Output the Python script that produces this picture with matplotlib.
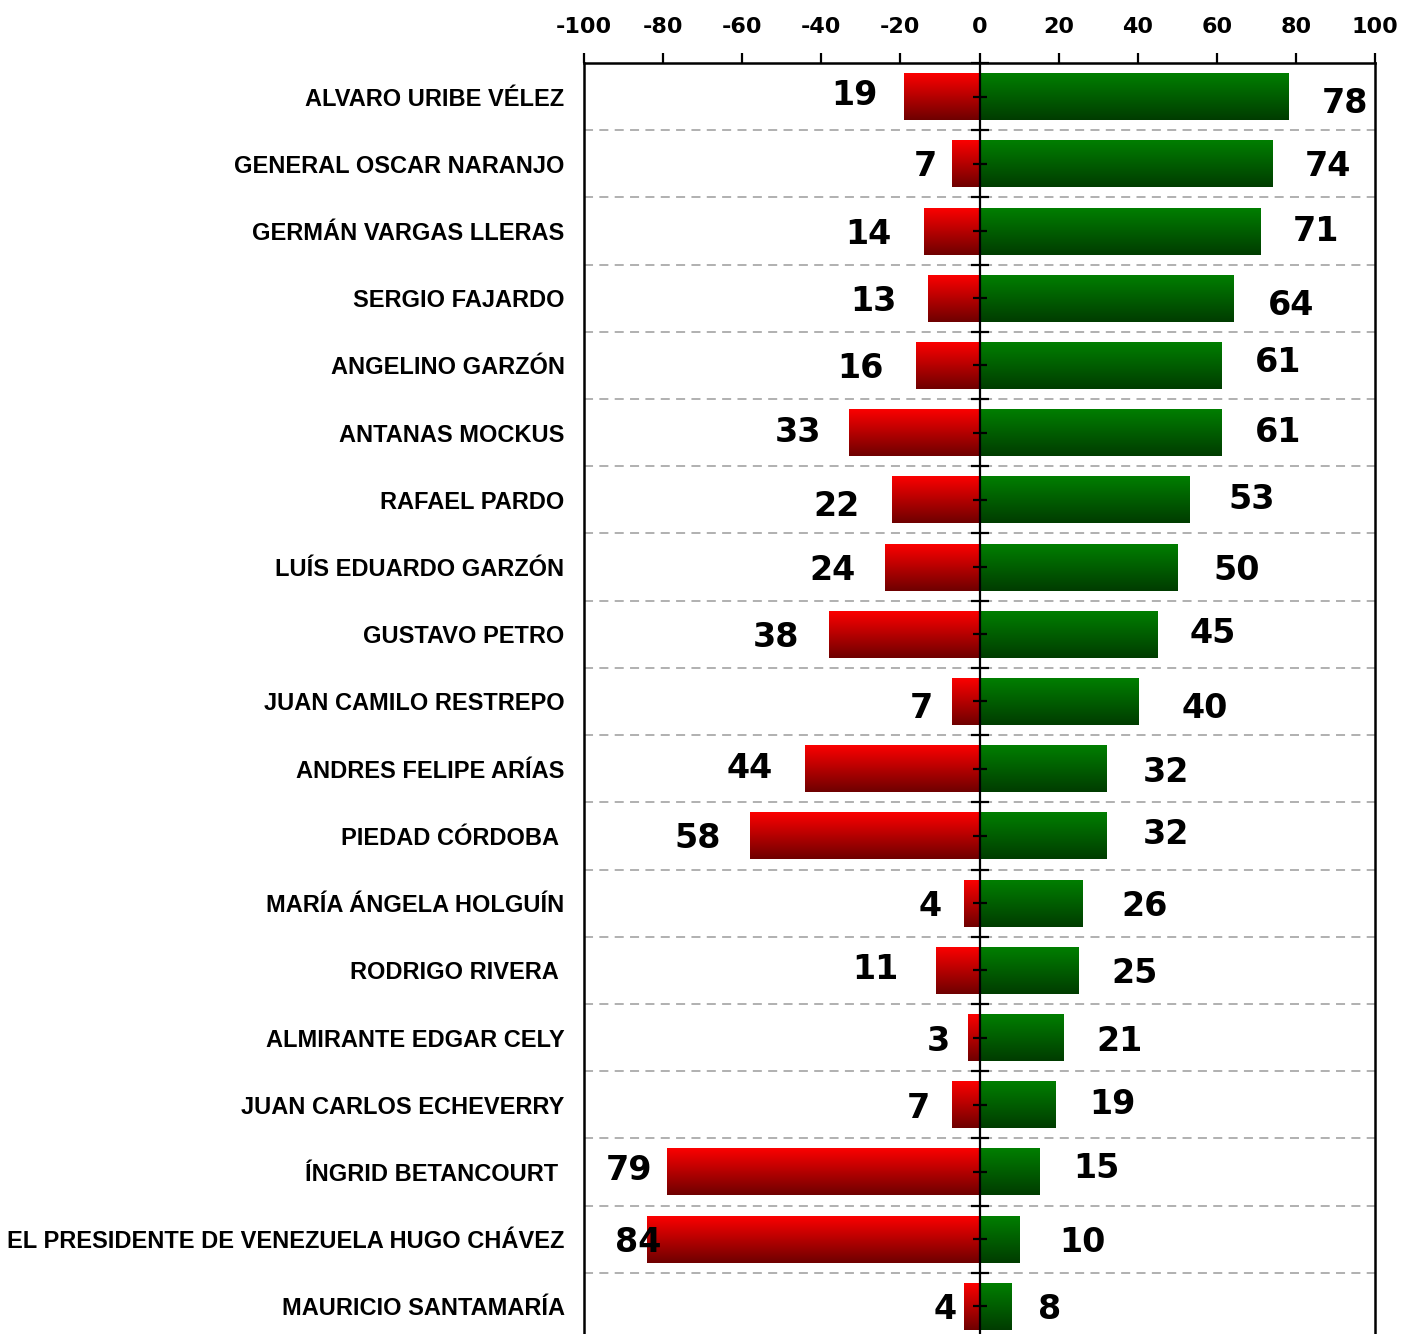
import numpy as np
import matplotlib
matplotlib.use("Agg")
import matplotlib.pyplot as plt
from matplotlib.colors import LinearSegmentedColormap

categories = [
    "ALVARO URIBE VÉLEZ", "GENERAL OSCAR NARANJO", "GERMÁN VARGAS LLERAS",
    "SERGIO FAJARDO", "ANGELINO GARZÓN", "ANTANAS MOCKUS", "RAFAEL PARDO",
    "LUÍS EDUARDO GARZÓN", "GUSTAVO PETRO", "JUAN CAMILO RESTREPO",
    "ANDRES FELIPE ARÍAS", "PIEDAD CÓRDOBA ", "MARÍA ÁNGELA HOLGUÍN",
    "RODRIGO RIVERA ", "ALMIRANTE EDGAR CELY", "JUAN CARLOS ECHEVERRY",
    "ÍNGRID BETANCOURT ", "EL PRESIDENTE DE VENEZUELA HUGO CHÁVEZ",
    "MAURICIO SANTAMARÍA",
]
unfavorable = [19, 7, 14, 13, 16, 33, 22, 24, 38, 7, 44, 58, 4, 11, 3, 7, 79, 84, 4]
favorable = [78, 74, 71, 64, 61, 61, 53, 50, 45, 40, 32, 32, 26, 25, 21, 19, 15, 10, 8]
xticks = [-100, -80, -60, -40, -20, 0, 20, 40, 60, 80, 100]

# label placement offsets (pixels): gap from bar end, vertical shift (down positive)
neg_dx = [27, 15, 33, 31, 33, 28, 33, 29, 30, 19, 33, 29, 22, 37, 18, 22, 15, -14, 7]
neg_dy = [-5, -1, 0, 0, 0, -4, 3, 0, 0, 4, -4, -1, 0, -4, 0, 0, -5, 0, 0]
pos_dx = [34, 33, 32, 35, 34, 34, 39, 36, 32, 44, 37, 37, 39, 33, 34, 35, 34, 40, 27]
pos_dy = [3, -1, -3, 4, -6, -4, -4, 0, -4, 4, 0, -5, 0, 0, 0, -4, -7, 0, 0]

W, H = 1401, 1334
fig = plt.figure(figsize=(W / 100, H / 100), dpi=100)
left, right, top_px, bot_px = 584, 1375, 63, 1340
ax = fig.add_axes([left / W, 1 - bot_px / H, (right - left) / W, (bot_px - top_px) / H])

n = len(categories)
ypos = np.arange(n) + 0.5
ax.set_xlim(-100, 100)
ax.set_ylim(n, 0)

red_cmap = LinearSegmentedColormap.from_list("r", ["#ff0000", "#6e0000"])
green_cmap = LinearSegmentedColormap.from_list("g", ["#008000", "#003c00"])
grad = np.linspace(0, 1, 256).reshape(-1, 1)

bh = 0.7
neg_bars = ax.barh(ypos, [-v for v in unfavorable], height=bh, color="#c00000", zorder=2)
pos_bars = ax.barh(ypos, favorable, height=bh, color="#006000", zorder=2)
for bars, cmap in ((neg_bars, red_cmap), (pos_bars, green_cmap)):
    for b in bars:
        x0, y0 = b.get_x(), b.get_y()
        w, h = b.get_width(), b.get_height()
        im = ax.imshow(grad, cmap=cmap, aspect="auto",
                       extent=(x0, x0 + w, y0 + h, y0), zorder=3,
                       interpolation="bilinear")
        im.set_clip_path(b)
ax.set_xlim(-100, 100)
ax.set_ylim(n, 0)

# grid lines at row boundaries
for yb in range(1, n):
    ax.axhline(yb, color="#aaaaaa", lw=1.3, ls=(0, (5, 3.5)), zorder=1)

# zero axis with ticks
ax.axvline(0, color="black", lw=1.6, zorder=5)
ax.plot(np.zeros(n), ypos, ls="none", marker="_", ms=9.5, mew=1.6, color="black", zorder=5)
ax.plot(np.zeros(n), np.arange(n), ls="none", marker="_", ms=13, mew=1.6, color="black", zorder=5, clip_on=False)

# value labels
numfont = dict(family="DejaVu Sans", weight="bold", size=24, color="black")
for i in range(n):
    ax.annotate(str(unfavorable[i]), xy=(-unfavorable[i], ypos[i]),
                xytext=(-neg_dx[i] * 0.72, -neg_dy[i] * 0.72), textcoords="offset points",
                ha="right", va="center_baseline", zorder=6, **numfont)
    ax.annotate(str(favorable[i]), xy=(favorable[i], ypos[i]),
                xytext=(pos_dx[i] * 0.72, -pos_dy[i] * 0.72), textcoords="offset points",
                ha="left", va="center_baseline", zorder=6, **numfont)

# axes styling
ax.xaxis.tick_top()
ax.set_xticks(xticks)
ax.set_xticklabels([str(t) for t in xticks], fontfamily="DejaVu Sans",
                   fontweight="bold", fontsize=16)
ax.tick_params(axis="x", direction="out", length=7, width=1.6, pad=12)
ax.set_yticks(ypos)
ax.set_yticklabels(categories, fontfamily="Liberation Sans", fontweight="bold", fontsize=17)
ax.tick_params(axis="y", length=0, pad=14)
for s in ("left", "right", "top"):
    ax.spines[s].set_linewidth(1.8)
ax.spines["bottom"].set_visible(False)

fig.savefig("out.png", dpi=100)
